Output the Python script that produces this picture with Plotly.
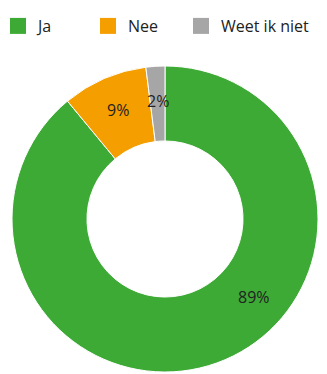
import math
import plotly.graph_objects as go

# Antwoorden en aandelen (%)
labels = ["Ja", "Nee", "Weet ik niet"]
values = [89, 9, 2]
colors = ["#3DAA35", "#F59E00", "#A6A6A6"]
# where along each slice its label sits (0 = slice start, 1 = slice end)
label_pos = [0.41, 0.5, 0.5]

W, H = 327, 374
cx, cy, r = 165, 219, 153  # ring centre and outer radius in px
hole = 0.51
FONT = "Open Sans, sans-serif"
legend_x = [-2, 88, 181]  # left edge of each legend box, px

fig = go.Figure()

fig.add_trace(
    go.Pie(
        labels=labels,
        values=values,
        hole=hole,
        sort=False,
        direction="clockwise",
        rotation=0,
        marker=dict(colors=colors, line=dict(color="white", width=1)),
        textinfo="none",
        domain=dict(
            x=[(cx - r) / W, (cx + r) / W],
            y=[(H - cy - r) / H, (H - cy + r) / H],
        ),
        hoverinfo="label+percent",
        showlegend=False,
    )
)

# one legend per entry so each can be placed on its own
legend_cfg = {}
for i, (lab, col) in enumerate(zip(labels, colors)):
    key = "legend" if i == 0 else f"legend{i + 1}"
    fig.add_trace(
        go.Scatter(
            x=[None], y=[None], mode="markers", name=lab,
            marker=dict(symbol="square", size=16, color=col),
            legend=key,
        )
    )
    legend_cfg[key] = dict(
        orientation="h",
        x=legend_x[i] / W,
        y=1 - 9 / H,
        xanchor="left",
        yanchor="top",
        itemsizing="trace",
        bgcolor="rgba(0,0,0,0)",
        font=dict(family=FONT, size=16, color="#222222"),
    )

# percentage labels placed inside the ring
total = sum(values)
start = 0.0
r_lab = r * 0.775
for v, pos in zip(values, label_pos):
    ang = 2 * math.pi * (start + v * pos) / total
    px = cx + r_lab * math.sin(ang)
    py = cy - r_lab * math.cos(ang)
    fig.add_annotation(
        x=px / W, y=1 - py / H, xref="paper", yref="paper",
        xanchor="center", yanchor="middle",
        text=f"{v}%", showarrow=False,
        font=dict(family=FONT, size=16, color="#222222"),
    )
    start += v

fig.update_layout(
    width=W,
    height=H,
    margin=dict(l=0, r=0, t=0, b=0, autoexpand=False),
    paper_bgcolor="white",
    plot_bgcolor="white",
    xaxis=dict(visible=False),
    yaxis=dict(visible=False),
    showlegend=True,
    **legend_cfg,
)

fig.write_html("out.html")
